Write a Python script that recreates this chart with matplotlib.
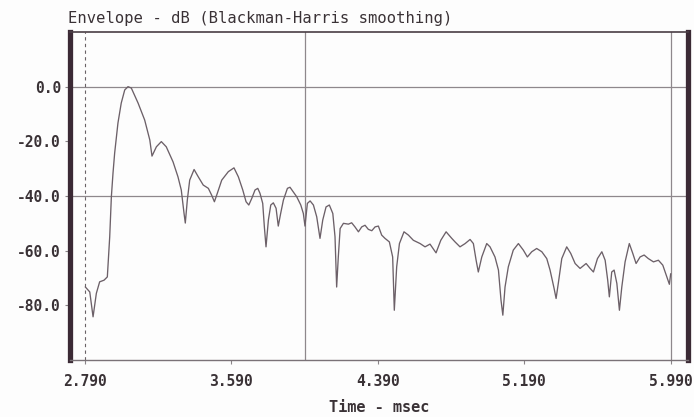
import matplotlib
matplotlib.use("Agg")
import matplotlib.pyplot as plt

# envolvente (ms, dB)
tiempo = [2.792, 2.816, 2.834, 2.852, 2.870, 2.894, 2.912, 2.925, 2.934, 2.943,
          2.952, 2.970, 2.988, 3.007, 3.025, 3.043, 3.080, 3.116, 3.144, 3.156,
          3.180, 3.207, 3.234, 3.271, 3.298, 3.316, 3.331, 3.338, 3.349, 3.362,
          3.386, 3.409, 3.436, 3.464, 3.482, 3.497, 3.513, 3.537, 3.573, 3.604,
          3.628, 3.652, 3.670, 3.685, 3.701, 3.719, 3.734, 3.746, 3.761, 3.770,
          3.779, 3.792, 3.805, 3.819, 3.834, 3.846, 3.859, 3.874, 3.896, 3.910,
          3.928, 3.947, 3.969, 3.983, 3.992, 4.005, 4.020, 4.038, 4.056, 4.074,
          4.089, 4.107, 4.125, 4.144, 4.156, 4.165, 4.174, 4.184, 4.202, 4.229,
          4.247, 4.265, 4.284, 4.302, 4.320, 4.338, 4.357, 4.375, 4.393, 4.411,
          4.429, 4.453, 4.471, 4.480, 4.493, 4.508, 4.533, 4.557, 4.584, 4.621,
          4.648, 4.675, 4.708, 4.734, 4.763, 4.794, 4.812, 4.839, 4.867, 4.894,
          4.912, 4.927, 4.939, 4.958, 4.985, 5.003, 5.030, 5.049, 5.063, 5.073,
          5.085, 5.103, 5.130, 5.158, 5.185, 5.207, 5.231, 5.258, 5.286, 5.313,
          5.331, 5.353, 5.364, 5.376, 5.395, 5.422, 5.444, 5.468, 5.495, 5.528,
          5.550, 5.568, 5.590, 5.614, 5.632, 5.646, 5.655, 5.668, 5.681, 5.696,
          5.710, 5.723, 5.741, 5.764, 5.783, 5.801, 5.823, 5.845, 5.868, 5.896,
          5.923, 5.947, 5.969, 5.983, 5.990]
nivel_db = [-73.3, -75.1, -84.2, -75.6, -71.4, -70.8, -69.6, -54.9, -40.3, -31.6,
            -24.3, -13.3, -6.0, -1.2, 0.0, -0.5, -6.0, -12.2, -19.5, -25.4,
            -22.0, -20.1, -22.0, -27.5, -33.0, -37.8, -46.3, -49.9, -41.5, -34.2,
            -30.3, -33.0, -36.0, -37.2, -39.7, -42.1, -39.0, -34.2, -31.1, -29.7,
            -33.0, -37.8, -42.1, -43.3, -40.9, -37.8, -37.2, -39.0, -42.7, -51.3,
            -58.6, -48.8, -43.3, -42.5, -44.5, -51.0, -46.4, -41.5, -37.2, -36.8,
            -38.5, -40.3, -43.3, -46.4, -51.0, -42.7, -41.8, -43.3, -47.6, -55.5,
            -48.8, -44.0, -43.3, -46.4, -54.9, -73.3, -62.3, -51.9, -50.0, -50.3,
            -49.8, -51.3, -53.1, -51.3, -50.7, -52.2, -52.7, -51.3, -51.0, -54.3,
            -55.5, -56.8, -62.3, -81.8, -65.9, -57.4, -53.1, -54.3, -56.2, -57.4,
            -58.6, -57.6, -60.8, -56.2, -53.1, -55.5, -56.8, -58.6, -57.4, -55.9,
            -57.4, -63.5, -67.8, -62.3, -57.4, -58.6, -62.3, -67.1, -78.1, -83.6,
            -73.3, -65.9, -59.8, -57.4, -59.8, -62.3, -60.4, -59.2, -60.4, -62.9,
            -67.1, -73.8, -77.5, -72.0, -62.9, -58.6, -61.0, -64.7, -66.5, -64.7,
            -66.5, -67.8, -62.9, -60.4, -63.5, -70.8, -76.9, -67.8, -67.1, -72.0,
            -81.8, -73.3, -64.1, -57.4, -61.0, -64.7, -62.3, -61.6, -62.9, -64.1,
            -63.5, -65.3, -69.6, -72.3, -68.5]

ticks_x = [2.790, 3.590, 4.390, 5.190, 5.990]
etiquetas_x = ['2.790', '3.590', '4.390', '5.190', '5.990']
ticks_y = [0, -20, -40, -60, -80]
etiquetas_y = ['0.0', '-20.0', '-40.0', '-60.0', '-80.0']
lineas_h = [0, -40]      # lineas horizontales de referencia
cursor = 3.990           # cursor vertical

fuente = 'DejaVu Sans Mono'
color_texto = '#3a3236'
color_borde = '#3b2a35'

fig = plt.figure(figsize=(6.94, 4.17), dpi=100)
fig.patch.set_facecolor('#fdfdfd')
ax = fig.add_axes([70 / 694, 1 - 360 / 417, 617.5 / 694, 328 / 417])
ax.set_facecolor('#fdfdfd')

for h in lineas_h:
    ax.axhline(h, color='#8e888c', lw=0.9, zorder=1)
ax.axvline(cursor, color='#8e888c', lw=0.9, zorder=1)
ax.axvline(ticks_x[0], color='#6a6266', lw=0.8, ls=(0, (3, 3)), zorder=1)
ax.axvline(ticks_x[-1], color='#8e888c', lw=0.9, zorder=1)

ax.plot(tiempo, nivel_db, color='#6c6068', lw=0.95, zorder=3)

ax.set_xlim(2.708, 6.082)
ax.set_ylim(-100, 20)
ax.set_xticks(ticks_x)
ax.set_xticklabels(etiquetas_x)
ax.set_yticks(ticks_y)
ax.set_yticklabels(etiquetas_y)
ax.tick_params(axis='y', length=3.5, width=0.8, color='#8a8488', pad=3,
               labelsize=10.5, labelcolor=color_texto)
ax.tick_params(axis='x', length=3, width=0.8, color='#8a8488', pad=7,
               labelsize=10.5, labelcolor=color_texto)
for lab in ax.get_xticklabels() + ax.get_yticklabels():
    lab.set_family(fuente)
    lab.set_fontweight('bold')

ax.spines['left'].set_linewidth(3.8)
ax.spines['left'].set_color(color_borde)
ax.spines['right'].set_linewidth(3.8)
ax.spines['right'].set_color(color_borde)
ax.spines['top'].set_linewidth(1.2)
ax.spines['top'].set_color('#4a3e45')
ax.spines['bottom'].set_linewidth(1.0)
ax.spines['bottom'].set_color('#7a7277')

fig.text(68 / 694, 1 - 18 / 417, 'Envelope - dB (Blackman-Harris smoothing)',
         family=fuente, fontsize=11.2, color=color_texto, va='center', ha='left')
fig.text(378.75 / 694, 1 - 407 / 417, 'Time - msec', family=fuente,
         fontsize=11, fontweight='bold', color=color_texto, va='center', ha='center')

plt.savefig('out.png', dpi=100, facecolor=fig.get_facecolor())
